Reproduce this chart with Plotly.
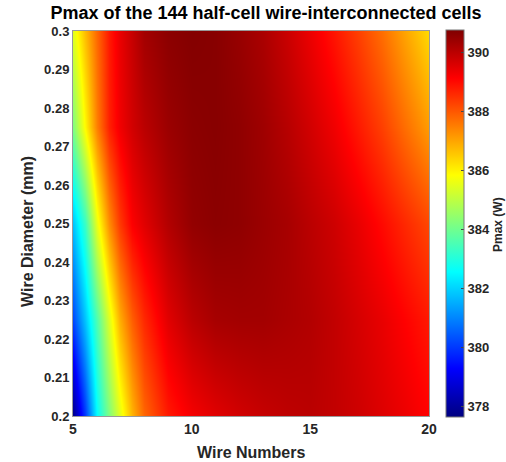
import plotly.graph_objects as go

# Wire numbers (x) and wire diameters in mm (y)
wire_numbers = [5, 5.5, 6, 6.5, 7, 7.5, 8, 9, 10, 11, 12, 13, 14, 15, 16, 17, 18, 19, 20]
wire_diameters = [0.2, 0.225, 0.25, 0.275, 0.3]

# Pmax (W), one row per diameter
pmax_d200 = [377.8, 380.0, 382.6, 384.2, 385.5, 386.8, 387.8, 388.8, 389.25, 389.5,
             389.7, 389.85, 389.95, 390.0, 389.9, 389.75, 389.55, 389.35, 389.1]
pmax_d225 = [380.2, 381.8, 383.6, 385.4, 386.9, 387.9, 388.6, 389.5, 390.0, 390.25,
             390.3, 390.3, 390.2, 390.1, 389.9, 389.65, 389.4, 389.1, 388.8]
pmax_d250 = [381.8, 383.3, 385.6, 387.3, 388.4, 389.15, 389.5, 390.1, 390.5, 390.6,
             390.55, 390.4, 390.25, 390.0, 389.75, 389.4, 389.0, 388.6, 388.2]
pmax_d275 = [384.2, 385.9, 387.5, 388.7, 389.3, 389.7, 390.0, 390.4, 390.6, 390.65,
             390.55, 390.35, 390.05, 389.7, 389.3, 388.8, 388.3, 387.7, 387.1]
pmax_d300 = [385.5, 386.7, 387.8, 388.8, 389.4, 389.85, 390.3, 390.6, 390.7, 390.65,
             390.45, 390.2, 389.8, 389.35, 388.85, 388.3, 387.7, 387.0, 386.3]

x_ticks = [5, 10, 15, 20]
y_ticks = [0.2, 0.21, 0.22, 0.23, 0.24, 0.25, 0.26, 0.27, 0.28, 0.29, 0.3]
y_ticktext = ["0.2", "0.21", "0.22", "0.23", "0.24", "0.25", "0.26", "0.27", "0.28", "0.29", "0.3"]
cbar_ticks = [378, 380, 382, 384, 386, 388, 390]

z = [pmax_d200, pmax_d225, pmax_d250, pmax_d275, pmax_d300]

jet = [[0.0, "rgb(0,0,128)"], [0.125, "rgb(0,0,255)"], [0.375, "rgb(0,255,255)"],
       [0.625, "rgb(255,255,0)"], [0.875, "rgb(255,0,0)"], [1.0, "rgb(128,0,0)"]]

FONT = "Liberation Sans"
TXT = "#262626"

W, H = 506, 462
ml, mr, mt, mb = 73, 77, 31, 46
pw = W - ml - mr
ph = H - mt - mb

fig = go.Figure(go.Heatmap(
    x=wire_numbers, y=wire_diameters, z=z,
    zsmooth="best", colorscale=jet, zmin=377.65, zmax=390.75,
    colorbar=dict(
        x=(446 - ml) / pw, xanchor="left", xpad=0,
        y=0.5, yanchor="middle", lenmode="pixels", len=387,
        thickness=18, thicknessmode="pixels",
        outlinewidth=1, outlinecolor="#777",
        tickvals=cbar_ticks, ticks="inside", ticklen=3, tickcolor="#444",
        tickfont=dict(family=FONT, size=13, color=TXT, weight="bold"),
        ypad=0,
    ),
))

fig.update_layout(
    width=W, height=H,
    margin=dict(l=ml, r=mr, t=mt, b=mb),
    paper_bgcolor="white", plot_bgcolor="white",
    title=dict(text="Pmax of the 144 half-cell wire-interconnected cells",
               x=266 / W, xref="container", xanchor="center",
               y=1 - 13 / H, yref="container", yanchor="middle",
               font=dict(family=FONT, size=18, color="black", weight="bold")),
    xaxis=dict(range=[5, 20], tickvals=x_ticks, showgrid=False, zeroline=False,
               ticks="", showline=True, linecolor="#999", linewidth=1, mirror=True,
               tickfont=dict(family=FONT, size=14, color=TXT, weight="bold")),
    yaxis=dict(range=[0.2, 0.3], tickvals=y_ticks, ticktext=y_ticktext,
               showgrid=False, zeroline=False,
               ticks="", showline=True, linecolor="#999", linewidth=1, mirror=True,
               tickfont=dict(family=FONT, size=13, color=TXT, weight="bold")),
    annotations=[
        dict(text="Wire Numbers", xref="paper", yref="paper",
             x=(251 - ml) / pw, y=-(452 - 416) / ph, xanchor="center", yanchor="middle",
             showarrow=False, font=dict(family=FONT, size=16, color=TXT, weight="bold")),
        dict(text="Wire Diameter (mm)", xref="paper", yref="paper",
             x=(28 - ml) / pw, y=1 - (232 - mt) / ph,
             xanchor="center", yanchor="middle", textangle=-90,
             showarrow=False, font=dict(family=FONT, size=16, color=TXT, weight="bold")),
        dict(text="Pmax (W)", xref="paper", yref="paper",
             x=(498 - ml) / pw, y=1 - (225 - mt) / ph,
             xanchor="center", yanchor="middle", textangle=-90,
             showarrow=False, font=dict(family=FONT, size=12, color=TXT, weight="bold")),
    ],
)

fig.write_html("out.html")
